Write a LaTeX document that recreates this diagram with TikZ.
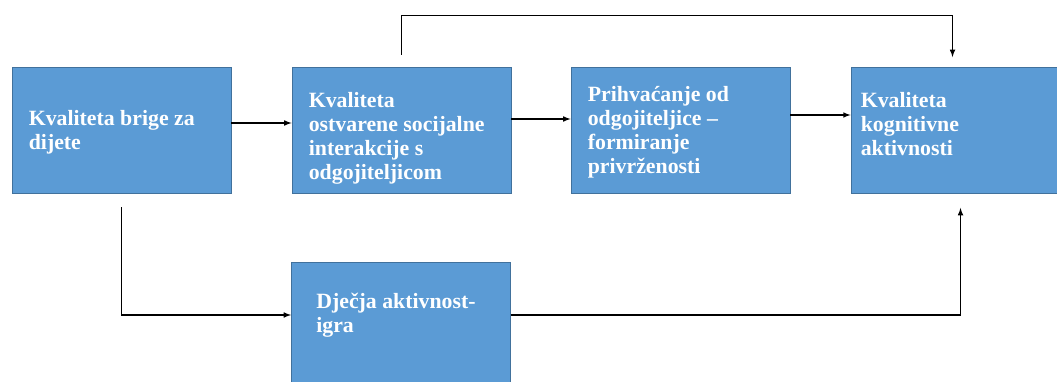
\documentclass[tikz,border=0pt]{standalone}
\usepackage{fontspec}
\setmainfont{Liberation Serif}
\usetikzlibrary{arrows,positioning,calc}
\definecolor{boxcolor}{RGB}{91,155,213}
\definecolor{bordercolor}{RGB}{65,113,156}
\tikzset{
    module/.style={
        rectangle,
        minimum width=5.475cm,
        minimum height=3.15cm,
        fill=boxcolor,
        draw=bordercolor,
        line width=0.6pt
    },
    label/.style={
        anchor=west,
        inner sep=0pt,
        align=left,
        text=white,
        font=\bfseries\fontsize{15.5}{17}\selectfont
    },
    arrow/.style={->, >=latex, line width=0.8pt, color=black}
}
\begin{document}
\begin{tikzpicture}[x=0.025cm, y=-0.025cm]
    \clip (0,0) rectangle (1057,381);
    \fill[white] (0,0) rectangle (1057,381);

    % Top row
    \node[module] (brige) at (121.5,130) {};
    \node[module] (soc) at (401.5,130) {};
    \node[module] (priv) at (680.5,130) {};
    \node[module] (kog) at (960.5,130.5) {};

    % Bottom
    \node[module] (igra) at (401,325) {};

    % Texts
    \node[label] (brige-t) at ([xshift=0.425cm,yshift=-0.05cm]brige.west) {Kvaliteta brige za\\dijete};
    \node[label] (soc-t) at ([xshift=0.425cm,yshift=-0.2cm]soc.west) {Kvaliteta\\ostvarene socijalne\\interakcije s\\odgojiteljicom};
    \node[label] (priv-t) at ([xshift=0.425cm,yshift=-0.05cm]priv.west) {Prihvaćanje od\\odgojiteljice --\\formiranje\\privrženosti};
    \node[label] (kog-t) at ([xshift=0.25cm,yshift=0.16cm]kog.west) {Kvaliteta\\kognitivne\\aktivnosti};
    \node[label] (igra-t) at ([xshift=0.625cm,yshift=0.25cm]igra.west) {Dječja aktivnost-\\igra};

    % Arrows
    \draw[arrow] ([yshift=0.175cm]brige.east) -- ([yshift=0.175cm]soc.west);
    \draw[arrow] ([yshift=0.275cm]soc.east) -- ([yshift=0.275cm]priv.west);
    \draw[arrow] ([yshift=0.375cm]priv.east) -- ([yshift=0.375cm]priv.east -| kog.west);
    \draw[arrow] ([yshift=0.3cm]soc.north) -- ++(0,-39) -| ([xshift=-0.2cm,yshift=0.25cm]kog.north);
    \draw[arrow] ([yshift=-0.35cm]brige.south) |- ([yshift=0.25cm]igra.west);
    \draw[arrow] ([yshift=0.25cm]igra.east) -| ([yshift=-0.35cm]kog.south);
\end{tikzpicture}
\end{document}
